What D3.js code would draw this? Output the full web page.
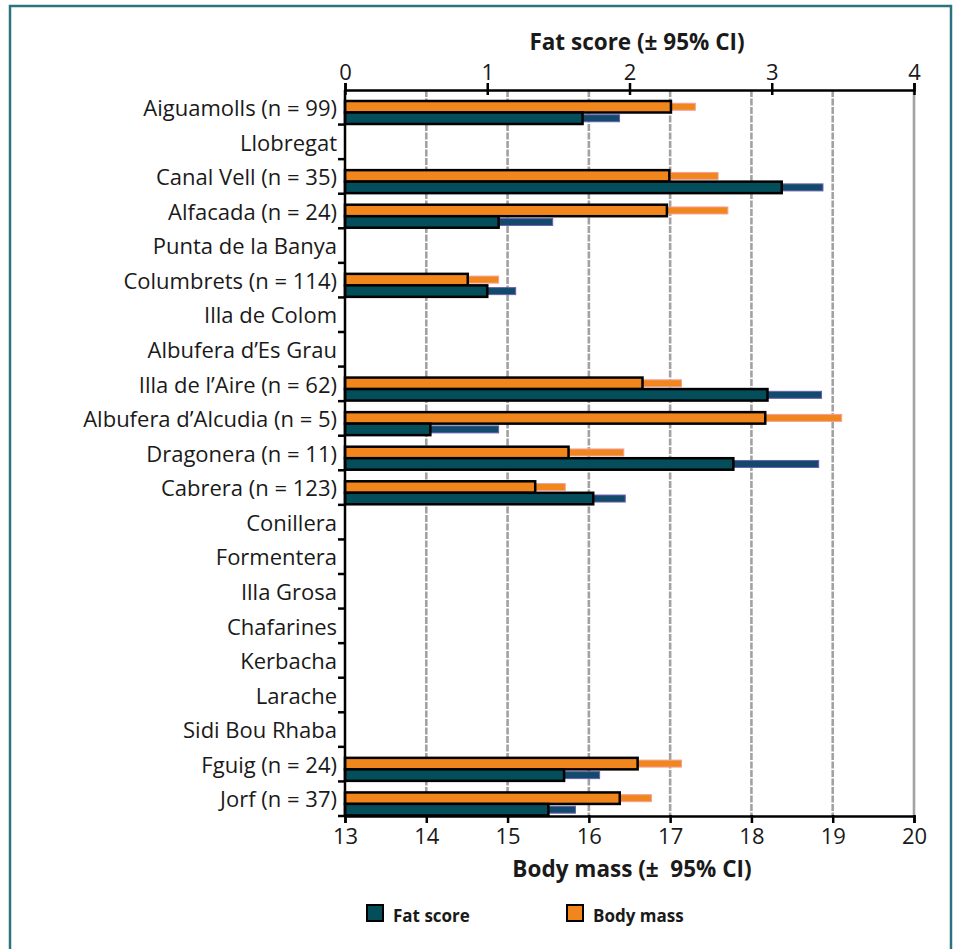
<!DOCTYPE html>
<html>
<head>
<meta charset="utf-8">
<script src="https://cdn.jsdelivr.net/npm/d3@7"></script>
<style>
    body { margin: 0; background: #fff; }
    svg text { font-family: "Open Sans", "Noto Sans", sans-serif; fill: #1a1a1a; }
    .tickText { font-size: 22px; }
    .siteText { font-size: 22px; }
    .axisTitle { font-size: 22.5px; font-weight: bold; }
    .legendText { font-size: 17px; font-weight: bold; }
</style>
</head>
<body>
<div id="chart"></div>
<script>
'use strict';

// Data
const sites = ['Aiguamolls', 'Llobregat', 'Canal Vell', 'Alfacada', 'Punta de la Banya',
    'Columbrets', 'Illa de Colom', 'Albufera d\u2019Es Grau', 'Illa de l\u2019Aire',
    'Albufera d\u2019Alcudia', 'Dragonera', 'Cabrera', 'Conillera', 'Formentera',
    'Illa Grosa', 'Chafarines', 'Kerbacha', 'Larache', 'Sidi Bou Rhaba', 'Fguig', 'Jorf'];
const sampleN = [99, null, 35, 24, null, 114, null, null, 62, 5, 11, 123,
    null, null, null, null, null, null, null, 24, 37];
const bodyMass = [17.01, null, 16.99, 16.96, null, 14.51, null, null, 16.66, 18.17, 15.75, 15.34,
    null, null, null, null, null, null, null, 16.60, 16.38];
const bodyMassCI = [0.30, null, 0.60, 0.75, null, 0.38, null, null, 0.48, 0.94, 0.68, 0.37,
    null, null, null, null, null, null, null, 0.54, 0.39];
const fatScore = [1.67, null, 3.07, 1.08, null, 1.00, null, null, 2.97, 0.60, 2.73, 1.745,
    null, null, null, null, null, null, null, 1.54, 1.43];
const fatScoreCI = [0.26, null, 0.29, 0.38, null, 0.20, null, null, 0.38, 0.48, 0.60, 0.225,
    null, null, null, null, null, null, null, 0.25, 0.19];
const massTicks = [13, 14, 15, 16, 17, 18, 19, 20];
const fatTicks = [0, 1, 2, 3, 4];

class FatMassBars {

    constructor(_ref) {
        this.parent = _ref;
        this.initVis();
    }

    initVis() {
        const vis = this;

        // Config
        vis.w = 955;
        vis.h = 949;
        vis.margin = {top: 90, right: 41, bottom: 133, left: 345};
        vis.gW = vis.w - vis.margin.left - vis.margin.right;
        vis.gH = vis.h - vis.margin.top - vis.margin.bottom;

        vis.colors = {
            mass: '#f0861c', massErr: '#f0861c', massErrLine: '#f4a0a0',
            fat: '#034e5a', fatErr: '#124a6c', fatErrLine: '#6a5fb0'
        };

        vis.svg = d3.select(`#${vis.parent}`)
            .append('svg')
            .attr('width', vis.w)
            .attr('height', vis.h);

        // Frame
        vis.svg.append('rect')
            .attr('x', 10)
            .attr('y', 6)
            .attr('width', 941)
            .attr('height', 980)
            .attr('fill', 'none')
            .attr('stroke', '#2b7380')
            .attr('stroke-width', 2.5);

        vis.g = vis.svg.append('g')
            .attr('transform', `translate(${vis.margin.left},${vis.margin.top})`);

        // Scales
        vis.massScale = d3.scaleLinear().domain([13, 20]).range([0, vis.gW]);
        vis.fatScale = d3.scaleLinear().domain([0, 4]).range([0, vis.gW]);
        vis.yScale = d3.scaleBand().domain(sites).range([0, vis.gH]);

        vis.wrangleData();
    }

    wrangleData() {
        const vis = this;

        vis.rows = sites.map((s, i) => ({
            site: s,
            label: sampleN[i] ? `${s} (n = ${sampleN[i]})` : s,
            mass: bodyMass[i],
            massCI: bodyMassCI[i],
            fat: fatScore[i],
            fatCI: fatScoreCI[i]
        }));

        vis.updateVis();
    }

    updateVis() {
        const vis = this;
        const bw = vis.yScale.bandwidth();
        const barH = 11.5;
        const errH = 7;

        // Grid
        vis.g.append('g')
            .selectAll('line')
            .data(massTicks.slice(1))
            .join('line')
            .attr('x1', d => vis.massScale(d))
            .attr('x2', d => vis.massScale(d))
            .attr('y1', 0)
            .attr('y2', vis.gH)
            .attr('stroke', '#a2a2a2')
            .attr('stroke-width', 2.6)
            .attr('stroke-dasharray', d => d === 20 ? null : '7,1.5');

        const data = vis.rows.filter(d => d.mass !== null);

        // Error bars (upper side only)
        vis.g.append('g')
            .selectAll('rect')
            .data(data)
            .join('rect')
            .attr('x', d => vis.massScale(d.mass))
            .attr('y', d => vis.yScale(d.site) + 11 + (barH - errH) / 2)
            .attr('width', d => vis.massScale(d.mass + d.massCI) - vis.massScale(d.mass))
            .attr('height', errH)
            .attr('fill', vis.colors.massErr)
            .attr('stroke', vis.colors.massErrLine)
            .attr('stroke-width', 1);

        vis.g.append('g')
            .selectAll('rect')
            .data(data)
            .join('rect')
            .attr('x', d => vis.fatScale(d.fat))
            .attr('y', d => vis.yScale(d.site) + 11 + barH + (barH - errH) / 2)
            .attr('width', d => vis.fatScale(d.fat + d.fatCI) - vis.fatScale(d.fat))
            .attr('height', errH)
            .attr('fill', vis.colors.fatErr)
            .attr('stroke', vis.colors.fatErrLine)
            .attr('stroke-width', 1);

        // Bars
        vis.g.append('g')
            .selectAll('rect')
            .data(data)
            .join('rect')
            .attr('x', 0)
            .attr('y', d => vis.yScale(d.site) + 11)
            .attr('width', d => vis.massScale(d.mass))
            .attr('height', barH)
            .attr('fill', vis.colors.mass)
            .attr('stroke', '#000')
            .attr('stroke-width', 2.5);

        vis.g.append('g')
            .selectAll('rect')
            .data(data)
            .join('rect')
            .attr('x', 0)
            .attr('y', d => vis.yScale(d.site) + 11 + barH)
            .attr('width', d => vis.fatScale(d.fat))
            .attr('height', barH)
            .attr('fill', vis.colors.fat)
            .attr('stroke', '#000')
            .attr('stroke-width', 2.5);

        // Axes
        const topAxis = vis.g.append('g')
            .call(d3.axisTop(vis.fatScale).tickValues(fatTicks).tickFormat(d3.format('d'))
                .tickSize(7).tickPadding(3));
        const bottomAxis = vis.g.append('g')
            .attr('transform', `translate(0,${vis.gH})`)
            .call(d3.axisBottom(vis.massScale).tickValues(massTicks).tickFormat(d3.format('d'))
                .tickSize(7).tickPadding(5));
        [topAxis, bottomAxis].forEach(ax => {
            ax.select('.domain').attr('stroke', '#000').attr('stroke-width', 2.5);
            ax.selectAll('.tick line').attr('stroke', '#000').attr('stroke-width', 2.5);
            ax.selectAll('.tick text').attr('class', 'tickText').attr('fill', '#1a1a1a');
        });
        topAxis.selectAll('.tick line').attr('y1', 5);
        bottomAxis.selectAll('.tick line').attr('y1', -1);

        // Left axis
        const leftG = vis.g.append('g');
        leftG.append('line')
            .attr('x1', 0).attr('x2', 0)
            .attr('y1', 0).attr('y2', vis.gH)
            .attr('stroke', '#000')
            .attr('stroke-width', 2.5);
        leftG.selectAll('.rowTick')
            .data(sites)
            .join('line')
            .attr('class', 'rowTick')
            .attr('x1', -7).attr('x2', 0)
            .attr('y1', d => vis.yScale(d) + bw)
            .attr('y2', d => vis.yScale(d) + bw)
            .attr('stroke', '#000')
            .attr('stroke-width', 2.5);
        leftG.selectAll('text')
            .data(vis.rows)
            .join('text')
            .attr('class', 'siteText')
            .attr('x', -8)
            .attr('y', d => vis.yScale(d.site) + bw / 2 + 1)
            .attr('dy', '0.35em')
            .attr('text-anchor', 'end')
            .text(d => d.label);

        // Axis titles
        vis.svg.append('text')
            .attr('class', 'axisTitle')
            .attr('x', 637)
            .attr('y', 50)
            .attr('text-anchor', 'middle')
            .text('Fat score (\u00b1 95% CI)');
        vis.svg.append('text')
            .attr('class', 'axisTitle')
            .attr('x', 632)
            .attr('y', 877)
            .attr('text-anchor', 'middle')
            .style('white-space', 'pre')
            .text('Body mass (\u00b1  95% CI)');

        // Legend
        const legend = [
            {name: 'Fat score', color: vis.colors.fat, x: 367},
            {name: 'Body mass', color: vis.colors.mass, x: 567}
        ];
        const lg = vis.svg.append('g').selectAll('g')
            .data(legend)
            .join('g')
            .attr('transform', d => `translate(${d.x},905)`);
        lg.append('rect')
            .attr('width', 16)
            .attr('height', 16)
            .attr('fill', d => d.color)
            .attr('stroke', '#000')
            .attr('stroke-width', 2);
        lg.append('text')
            .attr('class', 'legendText')
            .attr('x', 26)
            .attr('y', 17)
            .text(d => d.name);
    }
}

new FatMassBars('chart');
</script>
</body>
</html>
